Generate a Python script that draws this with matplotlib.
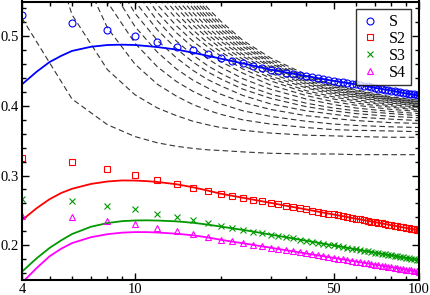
import numpy as np
import matplotlib
matplotlib.use("Agg")
from matplotlib import pyplot as plt
from matplotlib.ticker import FixedLocator, FixedFormatter, NullFormatter, MultipleLocator

plt.rcParams['font.family'] = ['Liberation Serif', 'DejaVu Serif']

nan = np.nan

# measured points, even sizes 4..100
x_even = np.arange(4, 101, 2)

s1 = [0.530, 0.519, 0.509, 0.500, 0.492, 0.485, 0.480, 0.475,
      0.469, 0.465, 0.462, 0.458, 0.455, 0.452, 0.450, 0.448, 0.446, 0.444,
      0.443, 0.441, 0.440, 0.439, 0.437, 0.436, 0.435, 0.434, 0.433, 0.432,
      0.431, 0.430, 0.429, 0.428, 0.427, 0.426, 0.425, 0.424, 0.4235, 0.423,
      0.422, 0.421, 0.4205, 0.420, 0.419, 0.418, 0.4175, 0.417, 0.4165, 0.416, 0.415]
s2 = [0.325, 0.319, 0.3095, 0.301, 0.294, 0.288, 0.2825, 0.2776,
      0.2740, 0.2709, 0.2681, 0.2655, 0.2630, 0.2608, 0.2587, 0.2567, 0.2548, 0.2530,
      0.2514, 0.2498, 0.2482, 0.2468, 0.2454, 0.2441, 0.2428, 0.2415, 0.2404, 0.2392,
      0.2381, 0.2370, 0.2360, 0.2350, 0.2340, 0.2331, 0.2321, 0.2312, 0.2304, 0.2295,
      0.2287, 0.2279, 0.2271, 0.2263, 0.2256, 0.2248, 0.2241, 0.2234, 0.2227, 0.2221, 0.2214]
s3 = [0.267, 0.264, 0.257, 0.2515, 0.2455, 0.2405, 0.236, 0.2315,
      0.2275, 0.2246, 0.2220, 0.2196, 0.2173, 0.2152, 0.2132, 0.2114, 0.2097, 0.2080,
      0.2065, 0.2050, 0.2036, 0.2022, 0.2009, 0.1997, 0.1985, 0.1973, 0.1962, 0.1952,
      0.1941, 0.1931, 0.1922, 0.1912, 0.1903, 0.1894, 0.1886, 0.1878, 0.1869, 0.1862,
      0.1854, 0.1846, 0.1839, 0.1832, 0.1825, 0.1818, 0.1811, 0.1805, 0.1798, 0.1792, 0.1786]
s4 = [0.242, 0.2405, 0.235, 0.230, 0.224, 0.220, 0.2157, 0.2119,
      0.2080, 0.2053, 0.2028, 0.2005, 0.1984, 0.1964, 0.1946, 0.1928, 0.1912, 0.1896,
      0.1882, 0.1868, 0.1854, 0.1842, 0.1829, 0.1818, 0.1806, 0.1796, 0.1785, 0.1775,
      0.1765, 0.1756, 0.1747, 0.1738, 0.1730, 0.1721, 0.1713, 0.1705, 0.1698, 0.1690,
      0.1683, 0.1676, 0.1669, 0.1662, 0.1656, 0.1649, 0.1643, 0.1637, 0.1631, 0.1625, 0.1619]

# solid fit curves
x_fit = [4, 4.5, 5, 5.5, 6, 7, 8, 9, 10, 11, 12, 14, 16, 18, 20, 25, 30, 40, 50, 60, 70, 80, 90, 100]
fit1 = [0.431, 0.449, 0.463, 0.472, 0.479, 0.485, 0.4875, 0.488, 0.4875, 0.486, 0.4845, 0.481,
        0.4765, 0.472, 0.468, 0.4595, 0.452, 0.443, 0.436, 0.431, 0.426, 0.422, 0.418, 0.415]
fit2 = [0.236, 0.253, 0.266, 0.275, 0.281, 0.288, 0.2915, 0.293, 0.2928, 0.292, 0.2908, 0.2875,
        0.2832, 0.2785, 0.274, 0.2668, 0.2608, 0.2514, 0.2441, 0.2381, 0.2331, 0.2287, 0.2248, 0.2214]
fit3 = [0.162, 0.181, 0.196, 0.207, 0.216, 0.2265, 0.2318, 0.2345, 0.2355, 0.2357, 0.2354, 0.2342,
        0.2322, 0.2296, 0.2268, 0.2208, 0.2152, 0.2065, 0.1997, 0.1941, 0.1894, 0.1854, 0.1818, 0.1786]
fit4 = [0.146, 0.167, 0.184, 0.195, 0.203, 0.2115, 0.2158, 0.218, 0.2188, 0.2188, 0.2182, 0.2165,
        0.2142, 0.2112, 0.2078, 0.2016, 0.1964, 0.1882, 0.1818, 0.1765, 0.1721, 0.1683, 0.1649, 0.1619]

# dashed curves (nan = well above the frame)
x_dash = [4, 6, 8, 10, 12, 14, 16, 18, 20, 24, 30, 40, 50, 60, 80, 100]
dash = [
    [0.526, 0.410, 0.373, 0.356, 0.347, 0.342, 0.339, 0.337, 0.336, 0.334, 0.332, 0.331, 0.331, 0.330, 0.330, 0.330],
    [0.760, 0.531, 0.452, 0.416, 0.397, 0.386, 0.378, 0.373, 0.369, 0.365, 0.361, 0.358, 0.357, 0.356, 0.355, 0.355],
    [nan, 0.622, 0.512, 0.460, 0.431, 0.414, 0.402, 0.394, 0.388, 0.380, 0.374, 0.369, 0.366, 0.365, 0.364, 0.363],
    [nan, 0.668, 0.549, 0.490, 0.456, 0.435, 0.421, 0.411, 0.403, 0.393, 0.385, 0.378, 0.374, 0.372, 0.370, 0.369],
    [nan, nan, 0.577, 0.514, 0.477, 0.453, 0.437, 0.426, 0.417, 0.405, 0.395, 0.386, 0.382, 0.379, 0.376, 0.375],
    [nan, nan, 0.599, 0.533, 0.494, 0.469, 0.451, 0.438, 0.429, 0.415, 0.403, 0.393, 0.388, 0.384, 0.381, 0.379],
    [nan, nan, 0.619, 0.550, 0.509, 0.482, 0.463, 0.449, 0.439, 0.424, 0.411, 0.399, 0.393, 0.389, 0.385, 0.383],
    [nan, nan, nan, 0.565, 0.522, 0.493, 0.473, 0.458, 0.447, 0.431, 0.417, 0.404, 0.397, 0.393, 0.389, 0.386],
    [nan, nan, nan, 0.579, 0.534, 0.505, 0.484, 0.468, 0.456, 0.439, 0.424, 0.410, 0.402, 0.397, 0.392, 0.389],
    [nan, nan, nan, 0.591, 0.545, 0.515, 0.493, 0.477, 0.464, 0.447, 0.430, 0.415, 0.406, 0.401, 0.395, 0.392],
    [nan, nan, nan, nan, 0.556, 0.525, 0.502, 0.485, 0.472, 0.453, 0.436, 0.419, 0.410, 0.404, 0.398, 0.394],
    [nan, nan, nan, nan, 0.566, 0.533, 0.509, 0.491, 0.478, 0.458, 0.440, 0.422, 0.413, 0.407, 0.400, 0.396],
    [nan, nan, nan, nan, 0.575, 0.541, 0.516, 0.498, 0.483, 0.463, 0.443, 0.426, 0.416, 0.409, 0.402, 0.398],
    [nan, nan, nan, nan, 0.583, 0.547, 0.522, 0.503, 0.488, 0.467, 0.447, 0.428, 0.418, 0.412, 0.404, 0.400],
    [nan, nan, nan, nan, nan, 0.554, 0.528, 0.508, 0.493, 0.471, 0.450, 0.431, 0.420, 0.413, 0.405, 0.401],
    [nan, nan, nan, nan, nan, 0.561, 0.534, 0.513, 0.497, 0.474, 0.453, 0.433, 0.422, 0.415, 0.407, 0.402],
    [nan, nan, nan, nan, nan, 0.569, 0.540, 0.519, 0.502, 0.478, 0.456, 0.435, 0.423, 0.416, 0.408, 0.403],
    [nan, nan, nan, nan, nan, 0.575, 0.545, 0.523, 0.506, 0.481, 0.458, 0.437, 0.425, 0.418, 0.409, 0.404],
    [nan, nan, nan, nan, nan, 0.580, 0.550, 0.527, 0.510, 0.485, 0.461, 0.439, 0.427, 0.419, 0.410, 0.405],
    [nan, nan, nan, nan, nan, nan, 0.555, 0.532, 0.514, 0.488, 0.463, 0.441, 0.428, 0.420, 0.411, 0.406],
    [nan, nan, nan, nan, nan, nan, 0.560, 0.536, 0.518, 0.491, 0.466, 0.443, 0.430, 0.422, 0.412, 0.407],
    [nan, nan, nan, nan, nan, nan, 0.566, 0.541, 0.522, 0.494, 0.469, 0.445, 0.431, 0.423, 0.413, 0.408],
]

fig = plt.figure(figsize=(4.31, 2.95), dpi=100)
ax = fig.add_axes([22 / 431, 1 - 280 / 295, 397 / 431, 278.5 / 295])

for y in dash:
    ax.plot(x_dash, y, color="0.2", lw=0.8, dashes=(5, 3))

ax.plot(x_fit, fit1, color="#0000ff", lw=1.3)
ax.plot(x_fit, fit2, color="#ff0000", lw=1.3)
ax.plot(x_fit, fit3, color="#009900", lw=1.3)
ax.plot(x_fit, fit4, color="#ff00ff", lw=1.3)

ms = 5
ax.plot(x_even, s1, "o", ls="none", mfc="none", mec="#0000ff", mew=0.8, ms=ms, label="S")
ax.plot(x_even, s2, "s", ls="none", mfc="none", mec="#ff0000", mew=0.8, ms=ms - 0.5, label="S2")
ax.plot(x_even, s3, "x", ls="none", mec="#009900", mew=0.8, ms=ms, label="S3")
ax.plot(x_even, s4, "^", ls="none", mfc="none", mec="#ff00ff", mew=0.8, ms=ms, label="S4")

ax.set_xscale("log")
ax.set_xlim(4, 100)
ax.set_ylim(0.15, 0.55)
ax.xaxis.set_major_locator(FixedLocator([4, 10, 50, 100]))
ax.xaxis.set_major_formatter(FixedFormatter(["4", "10", "50", "100"]))
ax.xaxis.set_minor_locator(FixedLocator([5, 6, 7, 8, 9, 20, 30, 40, 60, 70, 80, 90]))
ax.xaxis.set_minor_formatter(NullFormatter())
ax.yaxis.set_major_locator(MultipleLocator(0.1))
ax.yaxis.set_minor_locator(MultipleLocator(0.02))
ax.set_yticks([0.2, 0.3, 0.4, 0.5])
ax.set_yticklabels(["0.2", "0.3", "0.4", "0.5"])
ax.tick_params(which="both", direction="in", top=True, right=True, labelsize=10.5, width=1)
ax.tick_params(which="major", length=5, pad=2)
ax.tick_params(which="minor", length=3)
for sp in ax.spines.values():
    sp.set_linewidth(1.5)

leg = ax.legend(loc="upper right", fontsize=11.5, frameon=True, fancybox=False,
                labelspacing=0.05, handletextpad=0.6, borderpad=0.3, handlelength=1.2,
                borderaxespad=0.5)
leg.get_frame().set_edgecolor("black")
leg.get_frame().set_linewidth(1.0)

fig.savefig("out.png", dpi=100)
